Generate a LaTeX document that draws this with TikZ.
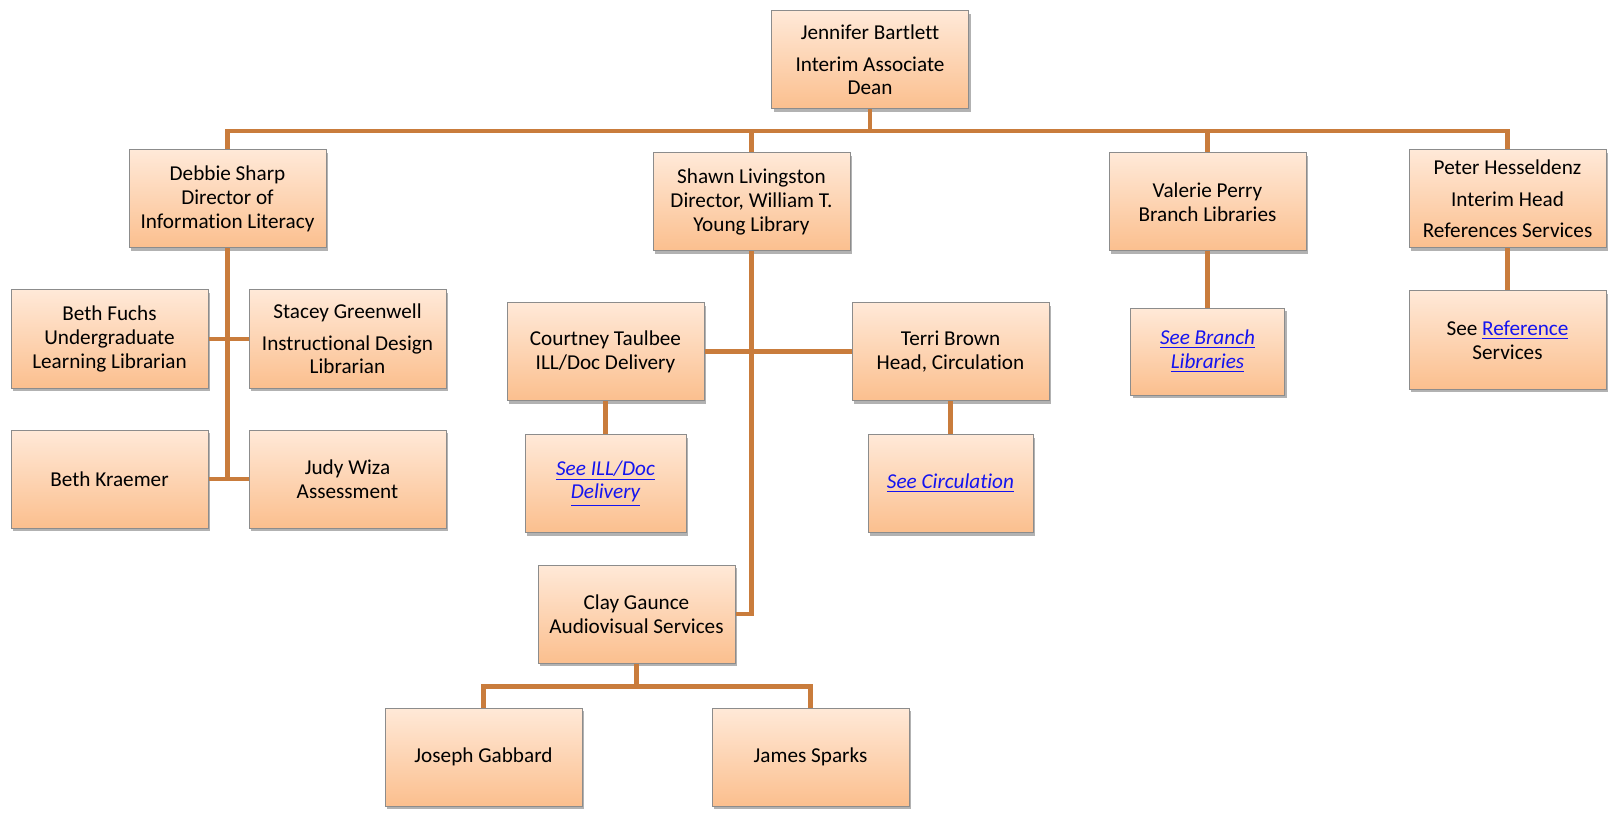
\documentclass[tikz,border=0pt]{standalone}
\usepackage{fontspec}
\setmainfont[Ligatures={NoCommon}]{Carlito}
\usepackage{xcolor}
\usepackage{tikz}
\usetikzlibrary{positioning,shadows}

\definecolor{boxtop}{RGB}{255,233,216}
\definecolor{boxbot}{RGB}{251,191,142}
\definecolor{boxline}{RGB}{140,140,140}
\definecolor{connline}{RGB}{201,124,60}
\definecolor{linkblue}{RGB}{20,20,240}
\newcommand{\lnk}[1]{\textcolor{linkblue}{\underline{#1}}}

\begin{document}
\begin{tikzpicture}[x=0.5pt, y=-0.5pt,
    staff/.style={draw=boxline, line width=0.5pt, top color=boxtop, bottom color=boxbot,
        minimum width=98.5pt, minimum height=49pt, inner sep=0pt, align=center,
        font=\fontsize{10.6}{11.85}\selectfont,
        drop shadow={shadow xshift=1.2pt, shadow yshift=-1.6pt, fill=black, opacity=0.3}},
    conn/.style={draw=connline, line width=2.4pt}]
    \useasboundingbox (0,0) rectangle (1614,813);

    % top and directors
    \node[staff] (dean) at (870,60) {Jennifer Bartlett\\[4pt]Interim Associate\\Dean};
    \node[staff] (sharp) at (227.5,199) {Debbie Sharp\\Director of\\Information Literacy};
    \node[staff] (livingston) at (751.5,202) {Shawn Livingston\\Director, William T.\\Young Library};
    \node[staff] (perry) at (1207.5,202) {Valerie Perry\\Branch Libraries};
    \node[staff] (hesseldenz) at (1507.5,199) {Peter Hesseldenz\\[4pt]Interim Head\\[4pt]References Services};

    % information literacy
    \node[staff] (fuchs) at (109.5,339) {Beth Fuchs\\Undergraduate\\Learning Librarian};
    \node[staff, right=20pt of fuchs] (greenwell) {Stacey Greenwell\\[4pt]Instructional Design\\Librarian};
    \node[staff, below=20.5pt of fuchs] (kraemer) {Beth Kraemer};
    \node[staff, below=20.5pt of greenwell] (wiza) {Judy Wiza\\Assessment};

    % young library
    \node[staff] (taulbee) at (605.5,351.5) {Courtney Taulbee\\ILL/Doc Delivery};
    \node[staff, right=73.5pt of taulbee] (brown) {Terri Brown\\Head, Circulation};
    \node[staff, below=16.5pt of taulbee, minimum width=80.5pt] (illdoc) {\itshape\lnk{See ILL/Doc}\\\itshape\lnk{Delivery}};
    \node[staff, below=16.5pt of brown, minimum width=82.5pt] (circ) {\itshape\lnk{See Circulation}};
    \node[staff] (gaunce) at (636.5,614) {Clay Gaunce\\Audiovisual Services};
    \node[staff] (gabbard) at (483.5,757) {Joseph Gabbard};
    \node[staff, right=64.5pt of gabbard] (sparks) {James Sparks};

    % branches and reference
    \node[staff, below=28pt of perry, minimum width=77pt, minimum height=43.5pt] (branch) {\itshape\lnk{See Branch}\\\itshape\lnk{Libraries}};
    \node[staff, below=21pt of hesseldenz] (refsvc) {See \lnk{Reference}\\Services};

    \coordinate (bus) at (0,131);
    \coordinate (avbus) at (0,686.6);

    \draw[conn] (dean.south) -- (dean.south |- bus);
    \draw[conn] (sharp.north) -- (sharp.north |- bus) -- (hesseldenz.north |- bus) -- (hesseldenz.north);
    \draw[conn] (livingston.north |- bus) -- (livingston.north);
    \draw[conn] (perry.north |- bus) -- (perry.north);

    \draw[conn] (sharp.south) -- (sharp.south |- kraemer.east);
    \draw[conn] (fuchs.east) -- (greenwell.west);
    \draw[conn] (kraemer.east) -- (wiza.west);

    \draw[conn] (livingston.south) |- (gaunce.east);
    \draw[conn] (taulbee.east) -- (brown.west);
    \draw[conn] (taulbee.south) -- (illdoc.north);
    \draw[conn] (brown.south) -- (circ.north);
    \draw[conn] (gaunce.south) -- (gaunce.south |- avbus);
    \draw[conn] (gabbard.north) -- (gabbard.north |- avbus) -- (sparks.north |- avbus) -- (sparks.north);

    \draw[conn] (perry.south) -- (branch.north);
    \draw[conn] (hesseldenz.south) -- (refsvc.north);
\end{tikzpicture}
\end{document}
